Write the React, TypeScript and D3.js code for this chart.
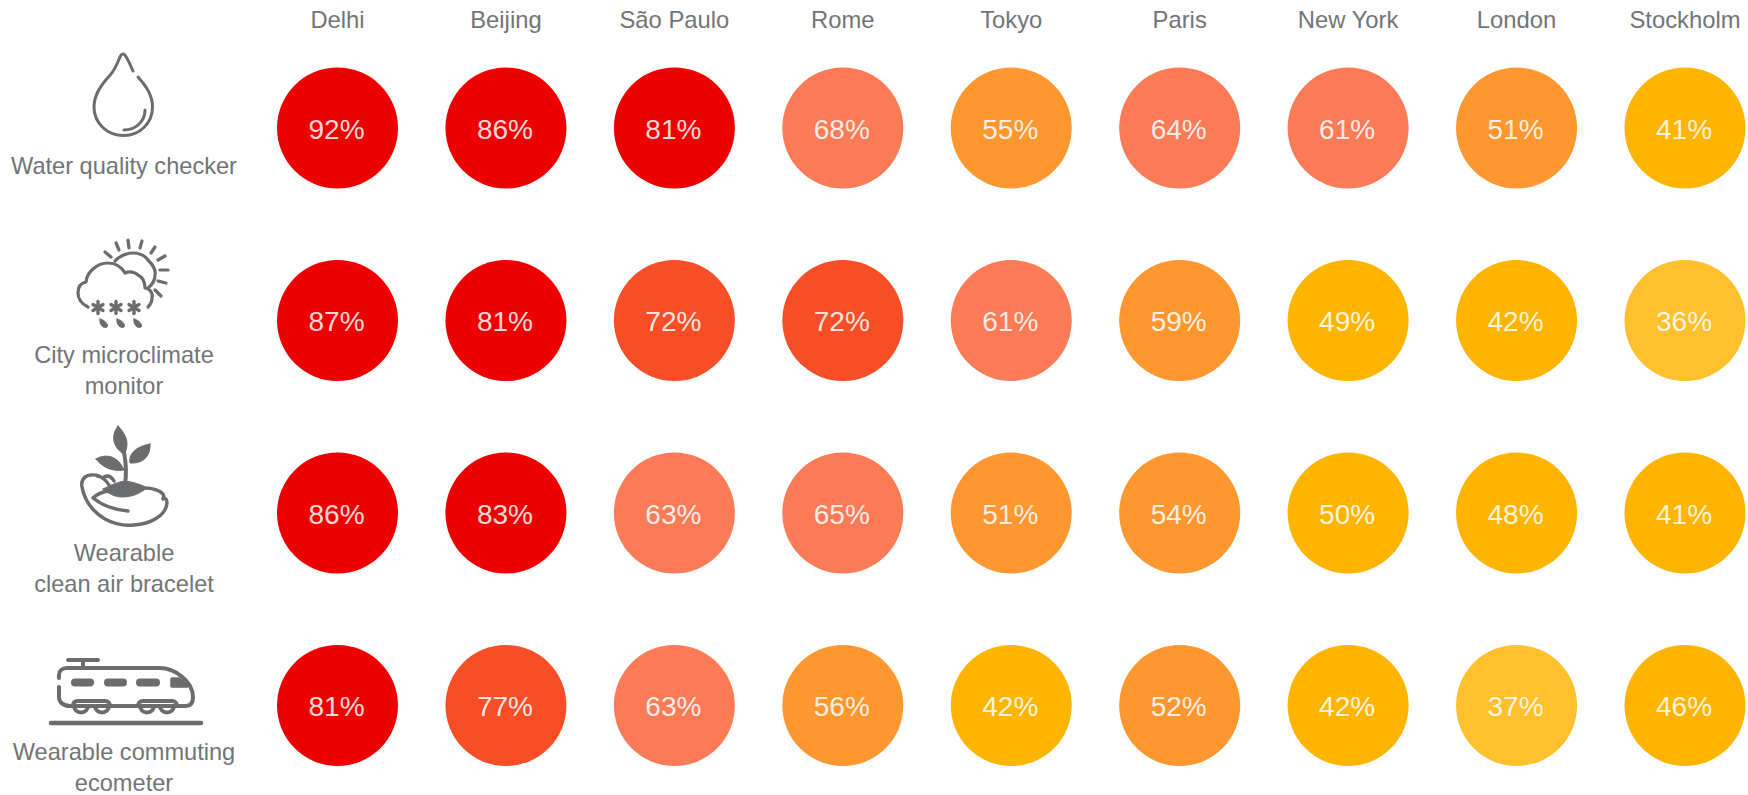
import React from "react";
import * as d3 from "d3";

const cities = ["Delhi", "Beijing", "São Paulo", "Rome", "Tokyo", "Paris", "New York", "London", "Stockholm"];
const products = ["water", "climate", "air", "commute"];
const waterValues = [92, 86, 81, 68, 55, 64, 61, 51, 41];
const climateValues = [87, 81, 72, 72, 61, 59, 49, 42, 36];
const airValues = [86, 83, 63, 65, 51, 54, 50, 48, 41];
const commuteValues = [81, 77, 63, 56, 42, 52, 42, 37, 46];
const rowValues = [waterValues, climateValues, airValues, commuteValues];
const rowLabels = [
  ["Water quality checker"],
  ["City microclimate", "monitor"],
  ["Wearable", "clean air bracelet"],
  ["Wearable commuting", "ecometer"],
];
const colourBreaks = [40, 51, 60, 70, 80];
const colourSteps = ["#FFC02D", "#FFB500", "#FE972F", "#FB7B57", "#F74E27", "#EE0000"];

const WIDTH = 1748;
const HEIGHT = 795;
const GREY = "#6b6c6e";
const LABEL_GREY = "#737476";
const FONT = "'Liberation Sans', Arial, sans-serif";

const x = d3.scalePoint<string>().domain(cities).range([337.5, 1685]);
const y = d3.scalePoint<string>().domain(products).range([128, 705.5]);
const colour = d3.scaleThreshold<number, string>().domain(colourBreaks).range(colourSteps);
const line = d3.line();

function Drop() {
  return (
    <g fill="none" stroke={GREY} strokeWidth={3} strokeLinecap="round">
      <path d="M133 71 C130 64 127 58 125 55 C124 53.5 122 53.5 121 55 C118 61 116 68 111 74 C102 84 94 94 94 107 C94 123 107 135.5 123.5 135.5 C140 135.5 152.5 123 152.5 107 C152.5 95 146 86 138 77" />
      <path d="M124 130 C135 130 145 122 145 110" />
    </g>
  );
}

function Weather() {
  const rays: [number, number, number, number][] = [
    [105, 252, 111, 257], [116, 243, 119, 250], [128, 240, 129, 248], [142, 241, 140, 248],
    [155, 247, 151, 253], [165, 256, 158, 260], [168, 270, 160, 270], [166, 283, 158, 281], [161, 296, 155, 290],
  ];
  const flakes = [98, 116, 134];
  const drops = [102, 119, 136];
  return (
    <g fill="none" stroke={GREY} strokeLinecap="round" strokeLinejoin="round" strokeWidth={3.2}>
      <path d="M88 307 C81 304 78 298 78 293 C78 287 81 283 86 282 C87 272 97 263 108 263 C116 263 122 268 125 273 C129 271 135 272 138 275 C142 277 145 282 145 288 C151 289 153 294 152 298 C152 302 150 305 148 307" />
      <path d="M115 261 C121 255 127 253 133 253 C140 253 145 256 148 260 C153 265 156 270 155 275 C155 280 152 285 148 288" />
      {rays.map((r, i) => <path key={i} d={line([[r[0], r[1]], [r[2], r[3]]]) ?? ""} />)}
      {flakes.map((fx) => (
        <g key={fx}>
          <path d={`M${fx} 301.5 V313.5`} strokeWidth={3.4} />
          <path d={`M${fx - 5} 304.5 L${fx + 5} 310.5 M${fx + 5} 304.5 L${fx - 5} 310.5`} strokeWidth={3.4} />
        </g>
      ))}
      {drops.map((dx) => (
        <path key={dx} d={`M${dx - 2} 319 C${dx + 3} 320 ${dx + 7} 325 ${dx + 5} 327 C${dx + 2} 329 ${dx - 3} 325 ${dx - 2} 319 Z`} fill={GREY} strokeWidth={1} />
      ))}
    </g>
  );
}

function Seedling() {
  return (
    <g stroke={GREY} strokeLinecap="round" strokeLinejoin="round">
      <path d="M118 426 C125 433 130 442 125 453 L122 453 C114 447 110 436 118 426 Z" fill={GREY} strokeWidth={1} />
      <path d="M150 444 C151 456 143 464 130 463 C128 453 138 446 150 444 Z" fill={GREY} strokeWidth={1} />
      <path d="M96 459 C106 453 118 456 124 470 C112 472 102 467 96 459 Z" fill={GREY} strokeWidth={1} />
      <path d="M124 452 C126 463 127 472 125 484" fill="none" strokeWidth={4} />
      <path d="M103 489 C113 484 118 482 125 481 C133 482 140 484 147 488 C140 493 133 497 122 497 C114 497 108 493 103 489 Z" fill={GREY} strokeWidth={1} />
      <path d="M128 511 C117 510 103 506 93 498 C97 494 102 492 108 491 M99 476 C94 474 88 475 85 477 C82 480 81 483 82 487 C84 498 90 510 105 519 C114 524 124 526 134 525 C150 524 166 516 167 503 C167 499 165 498 163 498 M145 488 C152 488 159 490 163 494 C164 496 164 498 163 499 M97 476 C101 476 106 480 109 485 M104 477 C108 475 111 476 114 481"
        fill="none" strokeWidth={3.4} />
    </g>
  );
}

function Train() {
  const windows = [[75, 90], [108, 123], [140, 156]];
  const wheels = [81, 102, 147, 167];
  return (
    <g fill="none" stroke={GREY} strokeLinecap="round" strokeLinejoin="round">
      <path d="M68 660 H98 M83 660 V667" strokeWidth={4} />
      <path d="M59 678 V675 C59 671 62 668 67 668 H160 C174 668 193 681 193 697 C193 703 191 706 186 706 H70 C63 706 59 702 59 697 V687" strokeWidth={4} />
      {windows.map(([a, b]) => <path key={a} d={`M${a} 682.5 H${b}`} strokeWidth={8} />)}
      <path d="M172 679 H179 L187 686 H172 Z" fill={GREY} strokeWidth={3.5} />
      <path d="M73 706 C73 702 75 701 78 701 H105 C108 701 110 703 110 706 M138 706 C138 703 140 701 143 701 H172 C175 701 177 703 177 706" strokeWidth={4} />
      {wheels.map((c) => <path key={c} d={`M${c - 7} 706 A7 6.5 0 0 0 ${c + 7} 706`} strokeWidth={4} />)}
      <path d="M51 723 H201" strokeWidth={4.5} />
    </g>
  );
}

const icons = [Drop, Weather, Seedling, Train];
const labelBaselines = [174, 363, 561, 760];
const LINE_HEIGHT = 31;

export default function App() {
  return (
    <svg
      width={WIDTH}
      height={HEIGHT}
      viewBox={`0 0 ${WIDTH} ${HEIGHT}`}
      style={{ position: "absolute", left: 0, top: 0, display: "block", background: "#fff" }}
      fontFamily={FONT}
    >
      {cities.map((city) => (
        <text key={city} x={x(city)} y={28} textAnchor="middle" fontSize={23.8} fill={LABEL_GREY}>
          {city}
        </text>
      ))}
      {icons.map((Icon, i) => <Icon key={i} />)}
      {rowLabels.map((lines, i) => (
        <text key={i} x={124} textAnchor="middle" fontSize={23.6} fill={LABEL_GREY}>
          {lines.map((t, j) => (
            <tspan key={t} x={124} y={labelBaselines[i] + j * LINE_HEIGHT}>{t}</tspan>
          ))}
        </text>
      ))}
      {products.map((p, i) =>
        cities.map((city, j) => {
          const v = rowValues[i][j];
          return (
            <g key={city} transform={`translate(${x(city)},${y(p)})`}>
              <circle r={60.5} fill={colour(v)} />
              <text x={-1} y={1} dy="0.35em" textAnchor="middle" fontSize={28} fill="#fff" fillOpacity={0.86}>
                {v}%
              </text>
            </g>
          );
        })
      )}
    </svg>
  );
}
